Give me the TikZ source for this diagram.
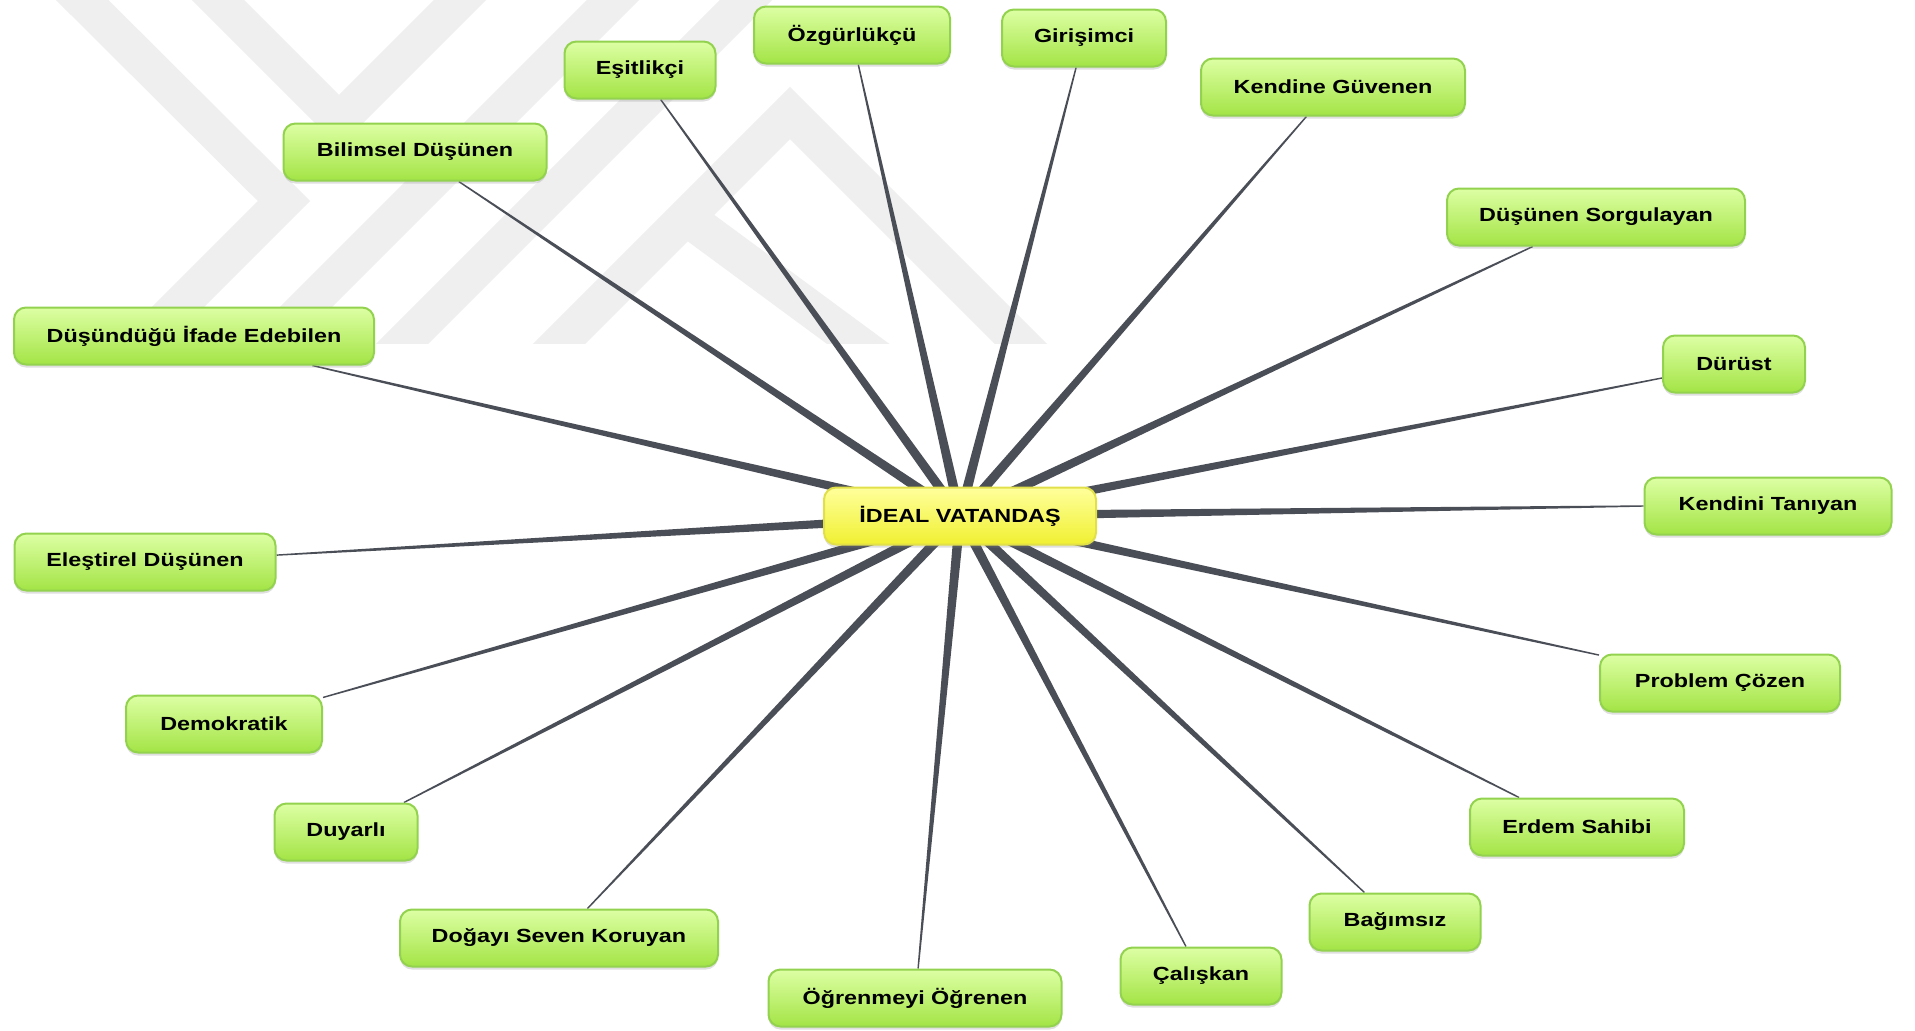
\documentclass[tikz,border=0pt]{standalone}
\usepackage{fontspec}
\newfontfamily\mapfont{Liberation Sans}[FakeStretch=1.23]
\usetikzlibrary{calc,shadows}
\pgfdeclarelayer{mark}
\pgfdeclarelayer{bg}
\pgfsetlayers{mark,bg,main}
\definecolor{spokegray}{HTML}{4A4E57}
\definecolor{leaftop}{HTML}{DCFFA4}
\definecolor{leafbot}{HTML}{A4E445}
\definecolor{leafline}{HTML}{93D24E}
\definecolor{roottop}{HTML}{FFFF9C}
\definecolor{rootbot}{HTML}{F0F032}
\definecolor{rootline}{HTML}{E2E04A}
\definecolor{markgray}{HTML}{EFEFEF}

\begin{document}
\begin{tikzpicture}[x = 1pt, y = -1pt,
  leaf/.style = {rectangle, rounded corners=12pt, draw=leafline, line width=2pt,
    top color=leaftop, bottom color=leafbot, minimum height=57pt, text=black,
    font=\mapfont\bfseries\fontsize{19pt}{22pt}\selectfont,
    drop shadow={shadow xshift=0pt, shadow yshift=-3pt, opacity=.25}},
  root/.style = {leaf, draw=rootline, top color=roottop, bottom color=rootbot},
  spoke/.style = {fill=spokegray},
  band/.style = {draw=markgray, line width=37pt, line join=miter}]

\useasboundingbox (0,0) rectangle (1915,1031);

\node[root, minimum width=272pt] (ideal) at (960,516) {İDEAL VATANDAŞ};

\node[leaf, minimum width=196pt] (oz) at (852,35) {Özgürlükçü};
\node[leaf, minimum width=164pt] (gi) at (1084,38) {Girişimci};
\node[leaf, minimum width=151pt] (es) at (640,70) {Eşitlikçi};
\node[leaf, minimum width=264pt] (kg) at (1333,87) {Kendine Güvenen};
\node[leaf, minimum width=263pt] (bd) at (415,152) {Bilimsel Düşünen};
\node[leaf, minimum width=298pt] (ds) at (1596,217) {Düşünen Sorgulayan};
\node[leaf, minimum width=360pt] (di) at (194,336) {Düşündüğü İfade Edebilen};
\node[leaf, minimum width=142pt] (du) at (1734,364) {Dürüst};
\node[leaf, minimum width=247pt] (kt) at (1768,506) {Kendini Tanıyan};
\node[leaf, minimum width=261pt] (ed) at (145,562) {Eleştirel Düşünen};
\node[leaf, minimum width=240pt] (pc) at (1720,683) {Problem Çözen};
\node[leaf, minimum width=196pt] (dm) at (224,724) {Demokratik};
\node[leaf, minimum width=214pt] (er) at (1577,827) {Erdem Sahibi};
\node[leaf, minimum width=143pt] (dy) at (346,832) {Duyarlı};
\node[leaf, minimum width=171pt] (bg) at (1395,922) {Bağımsız};
\node[leaf, minimum width=318pt] (dk) at (559,938) {Doğayı Seven Koruyan};
\node[leaf, minimum width=161pt] (ck) at (1201,976) {Çalışkan};
\node[leaf, minimum width=293pt] (oo) at (915,998) {Öğrenmeyi Öğrenen};

% tapered spokes from the centre
\begin{pgfonlayer}{bg}
\foreach \k in {oz,gi,es,kg,bd,ds,di,du,kt,ed,pc,dm,er,dy,bg,dk,ck,oo}{
  \pgfmathanglebetweenpoints{\pgfpointanchor{\k}{center}}{\pgfpointanchor{ideal}{center}}
  \let\ang\pgfmathresult
  \fill[spoke]
    ($(\k.\ang)+(\ang+90:0.7pt)$) -- ($(ideal.center)+(\ang+90:5pt)$)
    -- ($(ideal.center)+(\ang-90:5pt)$) -- ($(\k.\ang)+(\ang-90:0.7pt)$) -- cycle;
}
\end{pgfonlayer}

% watermark
\begin{pgfonlayer}{mark}
\fill[white] (0,0) rectangle (1915,1031);
\begin{scope}
  \clip (0,0) rectangle (1915,343);
  \draw[band] (45,-37) -- (284,201) -- (100,385);
  \draw[band] (180,-38) -- (339,121) -- (500,-40);
  \draw[band] (230,383) -- (653,-40);
  \draw[band] (363,383) -- (786,-40);
  \draw[band] (520,383) -- (790,113) -- (1060,383);
  \draw[band] (690,220) -- (880,360);
\end{scope}
\end{pgfonlayer}

\end{tikzpicture}
\end{document}
